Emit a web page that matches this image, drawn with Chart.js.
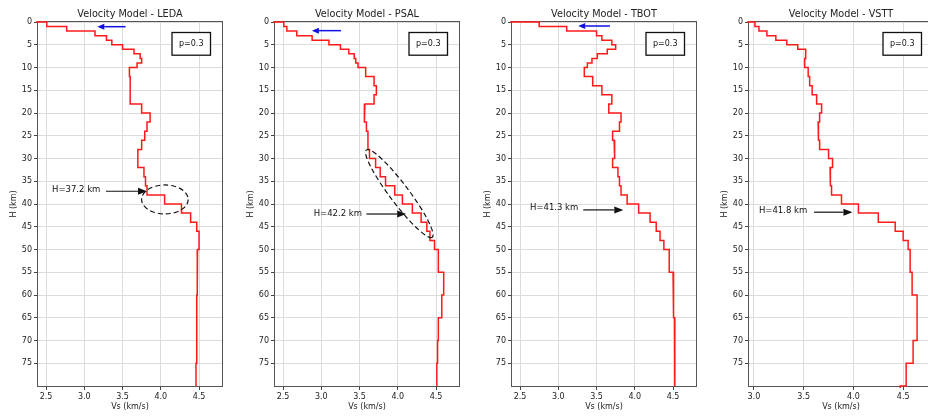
<!DOCTYPE html>
<html lang="en">
<head>
<meta charset="UTF-8">
<title>Velocity Models</title>
<script src="https://cdn.jsdelivr.net/npm/chart.js@4.4.0/dist/chart.umd.min.js"></script>
<style>
  body { margin: 0; background: #fff; width: 928px; height: 416px; overflow: hidden; position: relative; }
  canvas { position: absolute; top: 0; }
</style>
</head>
<body>
<canvas id="leda" width="232" height="416" style="left:0px"></canvas>
<canvas id="psal" width="232" height="416" style="left:237px"></canvas>
<canvas id="tbot" width="232" height="416" style="left:474px"></canvas>
<canvas id="vstt" width="232" height="416" style="left:711px"></canvas>
<script>
// layer boundaries (km) and Vs of each layer (km/s)
const ledaDepth = [0, 1, 2, 3, 4, 5, 6, 7, 8, 9, 10, 12, 18, 20, 22, 24, 26, 28, 32, 34, 36, 38, 40, 42, 44, 46, 50, 55, 60, 75, 80];
const ledaVs = [2.51, 2.77, 3.14, 3.29, 3.36, 3.50, 3.65, 3.73, 3.75, 3.69,
  3.59, 3.60, 3.75, 3.86, 3.82, 3.79, 3.75, 3.70, 3.78, 3.80, 3.82, 4.05, 4.27, 4.39, 4.47, 4.50, 4.48, 4.475, 4.47, 4.46];

const psalDepth = [0, 1, 2, 3, 4, 5, 6, 7, 8, 9, 10, 12, 14, 16, 18, 20, 22, 24, 28, 30, 32, 34, 36, 38, 40, 42, 44, 46, 48, 50, 55, 60, 65, 70, 75, 80];
const psalVs = [2.51, 2.55, 2.68, 2.88, 3.10, 3.25, 3.36, 3.43, 3.45, 3.48,
  3.58, 3.69, 3.72, 3.69, 3.57, 3.56, 3.59, 3.61, 3.63, 3.71, 3.77, 3.84, 3.96, 4.06, 4.19, 4.305, 4.38, 4.42, 4.48, 4.53, 4.60, 4.575, 4.53, 4.52, 4.51];

const tbotDepth = [0, 1, 2, 3, 4, 5, 6, 7, 8, 9, 10, 12, 14, 16, 18, 20, 22, 24, 26, 28, 30, 32, 34, 36, 38, 40, 42, 44, 46, 48, 50, 55, 60, 65, 70, 80];
const tbotVs = [2.75, 3.11, 3.50, 3.57, 3.70, 3.75, 3.64, 3.51, 3.44, 3.38,
  3.34, 3.45, 3.57, 3.70, 3.66, 3.82, 3.80, 3.71, 3.73, 3.74, 3.71, 3.78, 3.80, 3.82, 3.90, 4.05, 4.20, 4.28, 4.33, 4.38, 4.45, 4.50, 4.51, 4.52, 4.525];

const vsttDepth = [0, 1, 2, 3, 4, 5, 6, 8, 10, 12, 14, 16, 18, 20, 22, 24, 26, 28, 30, 32, 34, 36, 38, 40, 42, 44, 46, 48, 50, 55, 60, 70, 75, 80, 85];
const vsttVs = [3.01, 3.05, 3.13, 3.22, 3.33, 3.44, 3.52, 3.51,
  3.545, 3.56, 3.585, 3.63, 3.68, 3.66, 3.645, 3.65, 3.66, 3.75, 3.79, 3.765, 3.77, 3.78, 3.88, 4.05, 4.25, 4.42, 4.50, 4.55,
  4.57, 4.59, 4.64, 4.60, 4.53, 4.47];

const xTicksWide = [2.5, 3.0, 3.5, 4.0, 4.5];
const xTicksNarrow = [3.0, 3.5, 4.0, 4.5];
const yTicks = [0, 5, 10, 15, 20, 25, 30, 35, 40, 45, 50, 55, 60, 65, 70, 75];

Chart.defaults.font.family = "'DejaVu Sans', sans-serif";
Chart.defaults.font.size = 8;
Chart.defaults.color = '#222';

// step profile: surface point, then each layer as a vertical segment
function stepPoints(depth, vs) {
  const pts = [{x: 0, y: depth[0]}];
  vs.forEach((v, i) => {
    pts.push({x: v, y: depth[i]}, {x: v, y: depth[i + 1]});
  });
  return pts;
}

function arrow(ctx, x0, y0, x1, y1, color, width, headLen, headHalf) {
  const ang = Math.atan2(y1 - y0, x1 - x0);
  const bx = x1 - headLen * Math.cos(ang), by = y1 - headLen * Math.sin(ang);
  ctx.strokeStyle = color;
  ctx.fillStyle = color;
  ctx.lineWidth = width;
  ctx.beginPath();
  ctx.moveTo(x0, y0);
  ctx.lineTo(bx, by);
  ctx.stroke();
  ctx.beginPath();
  ctx.moveTo(x1, y1);
  ctx.lineTo(bx + headHalf * Math.sin(ang), by - headHalf * Math.cos(ang));
  ctx.lineTo(bx - headHalf * Math.sin(ang), by + headHalf * Math.cos(ang));
  ctx.closePath();
  ctx.fill();
}

const decor = {
  id: 'decor',
  beforeDatasetsDraw(chart) {
    const a = chart.chartArea, ctx = chart.ctx;
    ctx.save();
    ctx.strokeStyle = '#555';
    ctx.lineWidth = 1;
    ctx.strokeRect(a.left - 0.5, a.top - 0.5, a.width + 1, a.height + 1);
    ctx.restore();
  },
  afterDraw(chart, args, opts) {
    const a = chart.chartArea, ctx = chart.ctx;
    const sx = chart.scales.x, sy = chart.scales.y;
    ctx.save();

    // title
    ctx.fillStyle = '#222';
    ctx.font = "9.7px 'DejaVu Sans'";
    ctx.textAlign = 'center';
    ctx.textBaseline = 'middle';
    ctx.fillText(opts.title, (a.left + a.right) / 2, a.top - 8);

    // p value box
    const bw = 38.5, bh = 22.7;
    const bx = a.right - 11.5 - bw, by = a.top + 10.5;
    ctx.fillStyle = '#fff';
    ctx.fillRect(bx, by, bw, bh);
    ctx.strokeStyle = '#111';
    ctx.lineWidth = 1.3;
    ctx.strokeRect(bx, by, bw, bh);
    ctx.fillStyle = '#111';
    ctx.font = "8px 'DejaVu Sans'";
    ctx.fillText('p=0.3', bx + bw / 2, by + bh / 2 + 0.5);

    // Moho annotation
    const n = opts.note;
    ctx.textAlign = 'left';
    ctx.font = "8.5px 'DejaVu Sans'";
    ctx.fillText(n.label, sx.getPixelForValue(n.tx), sy.getPixelForValue(n.ty));
    const ny = sy.getPixelForValue(n.y);
    arrow(ctx, sx.getPixelForValue(n.x0), ny, sx.getPixelForValue(n.x1), ny, '#111', 1.2, 9, 3.5);

    // blue marker arrow
    if (opts.blue) {
      const b = opts.blue, y = sy.getPixelForValue(b.y);
      arrow(ctx, sx.getPixelForValue(b.x0), y, sx.getPixelForValue(b.x1), y, '#1010e0', 1.5, 7, 3);
    }

    // dashed ellipse around the transition
    if (opts.ellipse) {
      const e = opts.ellipse;
      const ax = sx.getPixelForValue(e.a[0]), ay = sy.getPixelForValue(e.a[1]);
      const bx2 = sx.getPixelForValue(e.b[0]), by2 = sy.getPixelForValue(e.b[1]);
      const rx = Math.hypot(bx2 - ax, by2 - ay) / 2;
      ctx.strokeStyle = '#111';
      ctx.lineWidth = 1.2;
      ctx.setLineDash([5, 3]);
      ctx.beginPath();
      ctx.ellipse((ax + bx2) / 2, (ay + by2) / 2, rx, e.w, Math.atan2(by2 - ay, bx2 - ax), 0, Math.PI * 2);
      ctx.stroke();
    }
    ctx.restore();
  }
};

function makePanel(id, title, depth, vs, xMin, xMax, xTicks, extras) {
  new Chart(document.getElementById(id), {
    type: 'scatter',
    data: {
      datasets: [{
        data: stepPoints(depth, vs),
        showLine: true,
        borderColor: '#ff1a1a',
        borderWidth: 1.5,
        pointRadius: 0,
        clip: 2
      }]
    },
    options: {
      responsive: false,
      animation: false,
      events: [],
      layout: { padding: { top: 22, right: 10, left: 0, bottom: 0 } },
      scales: {
        x: {
          type: 'linear',
          min: xMin,
          max: xMax,
          afterBuildTicks: s => { s.ticks = xTicks.map(v => ({ value: v })); },
          afterFit: s => { s.height = 30; },
          ticks: { padding: 2, maxRotation: 0, autoSkip: false, callback: v => v.toFixed(1) },
          grid: { color: '#dcdcdc', tickColor: '#444', tickLength: 4 },
          border: { display: false },
          title: { display: true, text: 'Vs (km/s)', padding: { top: 0, bottom: 4 } }
        },
        y: {
          type: 'linear',
          reverse: true,
          min: 0,
          max: 80,
          afterBuildTicks: s => { s.ticks = yTicks.map(v => ({ value: v })); },
          afterFit: s => { s.width = 38; },
          ticks: { padding: 2, autoSkip: false, callback: v => String(v) },
          grid: { color: '#dcdcdc', tickColor: '#444', tickLength: 4 },
          border: { display: false },
          title: { display: true, text: 'H (km)', padding: { top: 9, bottom: 0 } }
        }
      },
      plugins: {
        legend: { display: false },
        tooltip: { enabled: false },
        decor: Object.assign({ title: title }, extras)
      }
    },
    plugins: [decor]
  });
}

makePanel('leda', 'Velocity Model - LEDA', ledaDepth, ledaVs, 2.395, 4.8, xTicksWide, {
  note: { label: 'H=37.2 km', tx: 2.578, ty: 36.9, x0: 3.283, x1: 3.82, y: 37.2 },
  blue: { x0: 3.54, x1: 3.17, y: 1.03 },
  ellipse: { a: [3.749, 39], b: [4.358, 39], w: 14.5 }
});

makePanel('psal', 'Velocity Model - PSAL', psalDepth, psalVs, 2.395, 4.8, xTicksWide, {
  note: { label: 'H=42.2 km', tx: 2.90, ty: 42.2, x0: 3.59, x1: 4.11, y: 42.2 },
  blue: { x0: 3.257, x1: 2.877, y: 1.9 },
  ellipse: { a: [3.59, 28.1], b: [4.45, 47.3], w: 9.5 }
});

makePanel('tbot', 'Velocity Model - TBOT', tbotDepth, tbotVs, 2.395, 4.8, xTicksWide, {
  note: { label: 'H=41.3 km', tx: 2.63, ty: 40.9, x0: 3.326, x1: 3.85, y: 41.3 },
  blue: { x0: 3.675, x1: 3.261, y: 0.88 }
});

makePanel('vstt', 'Velocity Model - VSTT', vsttDepth, vsttVs, 2.95, 4.8, xTicksNarrow, {
  note: { label: 'H=41.8 km', tx: 3.05, ty: 41.5, x0: 3.604, x1: 3.99, y: 41.8 }
});
</script>
</body>
</html>
